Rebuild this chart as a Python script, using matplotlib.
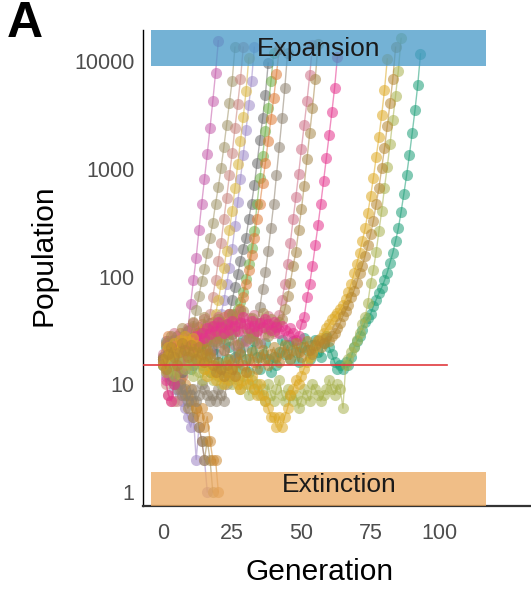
import matplotlib
matplotlib.use("Agg")
import matplotlib.pyplot as plt

plt.rcParams["font.family"] = ["Liberation Sans", "DejaVu Sans"]

# population size per generation, one list per lineage (generation 0 onward)
orchid = [17, 14, 19, 16, 22, 18, 15, 21, 20, 32, 56, 92, 150, 270, 475, 810, 1380,
          2400, 4250, 7800, 15500]
khaki = [18, 15, 20, 17, 22, 19, 24, 21, 25, 23, 26, 35, 49, 66, 91, 117, 166, 230,
         316, 475, 680, 1020, 1600, 2570, 4100, 6600, 13500]
rose = [15, 10, 8, 7, 7, 7, 9, 12, 14, 18, 22, 19, 26, 23, 24, 28, 35, 45, 65, 92,
        140, 205, 340, 540, 870, 1400, 2400, 4000, 6800, 13500]
lavender = [15, 18, 21, 17, 24, 20, 26, 22, 19, 25, 28, 23, 27, 30, 24, 29, 26, 31,
            27, 28, 35, 45, 60, 85, 120, 180, 295, 490, 810, 1350, 2300, 3900, 6600,
            13500]
yellow = [16, 20, 18, 23, 19, 25, 21, 17, 22, 26, 20, 24, 28, 23, 27, 30, 25, 28, 35,
          45, 60, 85, 120, 174, 270, 410, 660, 1100, 1820, 3020, 5250, 10700]
slate = [17, 25, 14, 12, 20, 28, 18, 13, 24, 31, 21, 15, 26, 34, 24, 17, 29, 37, 25,
         19, 32, 38, 30, 35, 45, 60, 80, 105, 140, 180, 230, 345, 475, 710, 1140,
         1850, 2950, 4900, 9600]
green = [15, 18, 16, 20, 17, 14, 19, 22, 18, 21, 24, 20, 17, 23, 26, 22, 19, 25, 28,
         24, 30, 27, 33, 29, 36, 40, 45, 50, 58, 72, 95, 130, 185, 265, 475, 820, 1320,
         2240, 3650, 6500, 12000]
orange = [16, 23, 28, 17, 13, 21, 30, 24, 15, 27, 19, 33, 22, 29, 36, 25, 19, 31, 38,
          27, 35, 29, 42, 31, 45, 34, 40, 44, 50, 65, 85, 115, 160, 230, 345, 475, 740,
          1140, 1820, 2900, 4550, 7600, 13000]
taupe = [18, 15, 13, 11, 10, 9, 10, 8, 9, 7, 8, 9, 7, 8, 10, 9, 8, 7, 8, 7, 9, 8, 7,
         10, 12, 14, 17, 20, 24, 22, 26, 30, 28, 33, 37, 52, 77, 110, 174, 285, 475,
         880, 1600, 2950, 5600, 12000]
pink = [19, 13, 25, 16, 30, 21, 14, 27, 18, 33, 22, 37, 25, 17, 29, 40, 28, 20, 35, 24,
        42, 30, 21, 36, 45, 29, 23, 39, 48, 31, 25, 41, 28, 44, 32, 24, 38, 29, 43, 33,
        30, 35, 44, 60, 86, 132, 205, 340, 550, 900, 1540, 2550, 4250, 7400, 14000]
umber = [17, 24, 14, 28, 19, 13, 22, 33, 21, 16, 27, 38, 23, 18, 30, 42, 26, 19, 34,
         25, 40, 28, 21, 36, 26, 45, 31, 23, 38, 48, 33, 27, 41, 30, 24, 37, 46, 33, 28,
         40, 31, 36, 38, 40, 50, 66, 88, 125, 170, 270, 420, 700, 1230, 2150, 3700,
         6800, 14500]
magenta = [16, 11, 8, 7, 10, 23, 20, 17, 24, 21, 26, 22, 28, 25, 30, 27, 33, 29, 35,
           31, 38, 34, 30, 36, 32, 39, 35, 31, 37, 42, 36, 33, 39, 35, 31, 37, 34, 40,
           36, 32, 38, 34, 30, 35, 32, 28, 33, 30, 26, 28, 36, 42, 64, 86, 126, 195,
           300, 475, 770, 1260, 2050, 3370, 5700, 11000]
gold = [15, 18, 22, 19, 24, 20, 26, 23, 28, 25, 21, 27, 23, 19, 16, 14, 12, 15, 13, 11,
        14, 12, 10, 13, 11, 14, 12, 10, 9, 11, 13, 10, 12, 9, 8, 10, 8, 7, 6, 5, 5, 4,
        5, 4, 5, 6, 8, 9, 11, 10, 12, 14, 16, 18, 20, 22, 25, 27, 30, 33, 36, 40, 43,
        46, 50, 55, 62, 72, 86, 107, 132, 166, 215, 280, 390, 560, 830, 1290, 1980,
        3200, 5400, 10500]
ochre = [17, 14, 19, 22, 18, 15, 20, 24, 21, 18, 23, 20, 17, 22, 19, 16, 21, 18, 15,
         13, 16, 14, 12, 15, 17, 14, 12, 16, 19, 15, 13, 17, 20, 16, 14, 18, 21, 17, 15,
         19, 22, 18, 16, 20, 23, 19, 17, 21, 24, 20, 18, 22, 25, 21, 19, 23, 26, 22, 24,
         27, 25, 28, 30, 33, 37, 43, 48, 55, 64, 74, 88, 107, 126, 156, 195, 250, 330,
         475, 670, 1020, 1560, 2500, 4100, 6800, 13500]
olive = [16, 13, 18, 15, 12, 17, 20, 16, 14, 19, 15, 12, 16, 13, 11, 14, 17, 13, 11,
         15, 12, 10, 13, 16, 12, 10, 14, 11, 9, 12, 10, 8, 11, 9, 10, 8, 9, 7, 10, 8,
         7, 9, 11, 8, 7, 9, 8, 7, 8, 6, 7, 9, 8, 7, 10, 9, 8, 7, 8, 9, 11, 9, 8, 10, 9,
         6, 15, 17, 20, 22, 26, 30, 36, 42, 57, 87, 116, 170, 265, 410, 670, 1050, 1700,
         2850, 4800, 8200, 16300]
teal = [15, 22, 13, 19, 26, 17, 12, 20, 28, 18, 14, 23, 30, 19, 15, 25, 18, 13, 21,
        27, 16, 14, 24, 17, 22, 29, 18, 14, 20, 26, 17, 13, 21, 25, 18, 14, 19, 24, 17,
        13, 18, 15, 20, 26, 19, 23, 17, 25, 20, 16, 22, 27, 21, 17, 23, 26, 20, 18, 24,
        28, 22, 19, 16, 14, 15, 14, 16, 15, 18, 22, 25, 28, 32, 38, 41, 45, 53, 61, 70,
        79, 92, 109, 135, 166, 215, 280, 400, 590, 880, 1350, 2150, 3500, 6000, 11700]
# lineages that die out
violet_lost = [15, 12, 14, 11, 9, 10, 8, 7, 6, 5, 4, 5, 2, 4, 3, 2, 1]
bronze_lost = [18, 15, 13, 16, 12, 10, 11, 9, 8, 6, 7, 5, 6, 4, 3, 2, 3, 2, 1]
amber_lost = [17, 20, 16, 14, 17, 13, 11, 12, 10, 8, 9, 7, 6, 5, 6, 4, 5, 3, 2, 2, 1]

# drawn in this order, later lineages sit on top
lineages = [
    (teal, "#1B9E77"), (violet_lost, "#9B82C4"), (bronze_lost, "#A08445"),
    (amber_lost, "#CC8A33"), (orchid, "#C45BAA"), (khaki, "#A09468"),
    (rose, "#C8837D"), (lavender, "#9E8AC8"), (yellow, "#D8B440"),
    (slate, "#6B6B6B"), (green, "#6DAE45"), (orange, "#DD7A35"),
    (taupe, "#8E8270"), (pink, "#CC6F86"), (umber, "#A7874A"),
    (magenta, "#E5338D"), (olive, "#A8B24E"), (gold, "#DDA822"), (ochre, "#B5862F"),
]

threshold = 15
expansion_band = (9000, 19500)
extinction_band = (0.74, 1.53)
band_gen = (-4.3, 116.6)

fig = plt.figure(figsize=(5.31, 5.92), dpi=100)
ax = fig.add_axes([143 / 531, 86 / 592, 388 / 531, 476 / 592])

for pop, col in lineages:
    gens = list(range(len(pop)))
    ax.plot(gens, pop, color=col, lw=1.0, alpha=0.55, zorder=2)
    ax.plot(gens, pop, "o", color=col, ms=8, mew=0, alpha=0.55, zorder=2)

ax.set_yscale("log")
ax.set_xlim(-7.2, 132.9)
ax.set_ylim(extinction_band[0], expansion_band[1])

ax.fill_between(band_gen, *expansion_band, color="#4598C8", alpha=0.75, lw=0, zorder=3)
ax.fill_between(band_gen, *extinction_band, color="#EBA85F", alpha=0.75, lw=0, zorder=3)
ax.text(56.2, 12900, "Expansion", ha="center", va="center", fontsize=19,
        color="#1a1a1a", zorder=4)
ax.text(63.6, 1.16, "Extinction", ha="center", va="center", fontsize=19,
        color="#1a1a1a", zorder=4)
ax.plot([-7.2, 102.5], [threshold, threshold], color="#E0393E", lw=1.2, zorder=4)

ax.set_xticks([0, 25, 50, 75, 100])
ax.set_yticks([1, 10, 100, 1000, 10000])
ax.set_yticklabels(["1", "10", "100", "1000", "10000"])
ax.minorticks_off()
ax.tick_params(length=0, labelsize=15.5, labelcolor="#4D4D4D")
ax.tick_params(axis="x", pad=12)
ax.tick_params(axis="y", pad=6)

for side in ("top", "right"):
    ax.spines[side].set_visible(False)
ax.spines["left"].set_color("black")
ax.spines["left"].set_linewidth(1.0)
ax.spines["bottom"].set_color("#333333")
ax.spines["bottom"].set_linewidth(1.6)

ax.set_xlabel("Generation", fontsize=21.5)
ax.set_ylabel("Population", fontsize=21.5)
ax.xaxis.set_label_coords((320 - 143) / 388, -(572 - 506) / 476)
ax.yaxis.set_label_coords(-(143 - 44) / 388, (506 - 255) / 476)
ax.xaxis.label.set_va("center")
ax.yaxis.label.set_va("center")

fig.text(7 / 531, 1 - 37 / 592, "A", fontsize=36, fontweight="bold", va="baseline")

fig.savefig("out.png", dpi=100)
